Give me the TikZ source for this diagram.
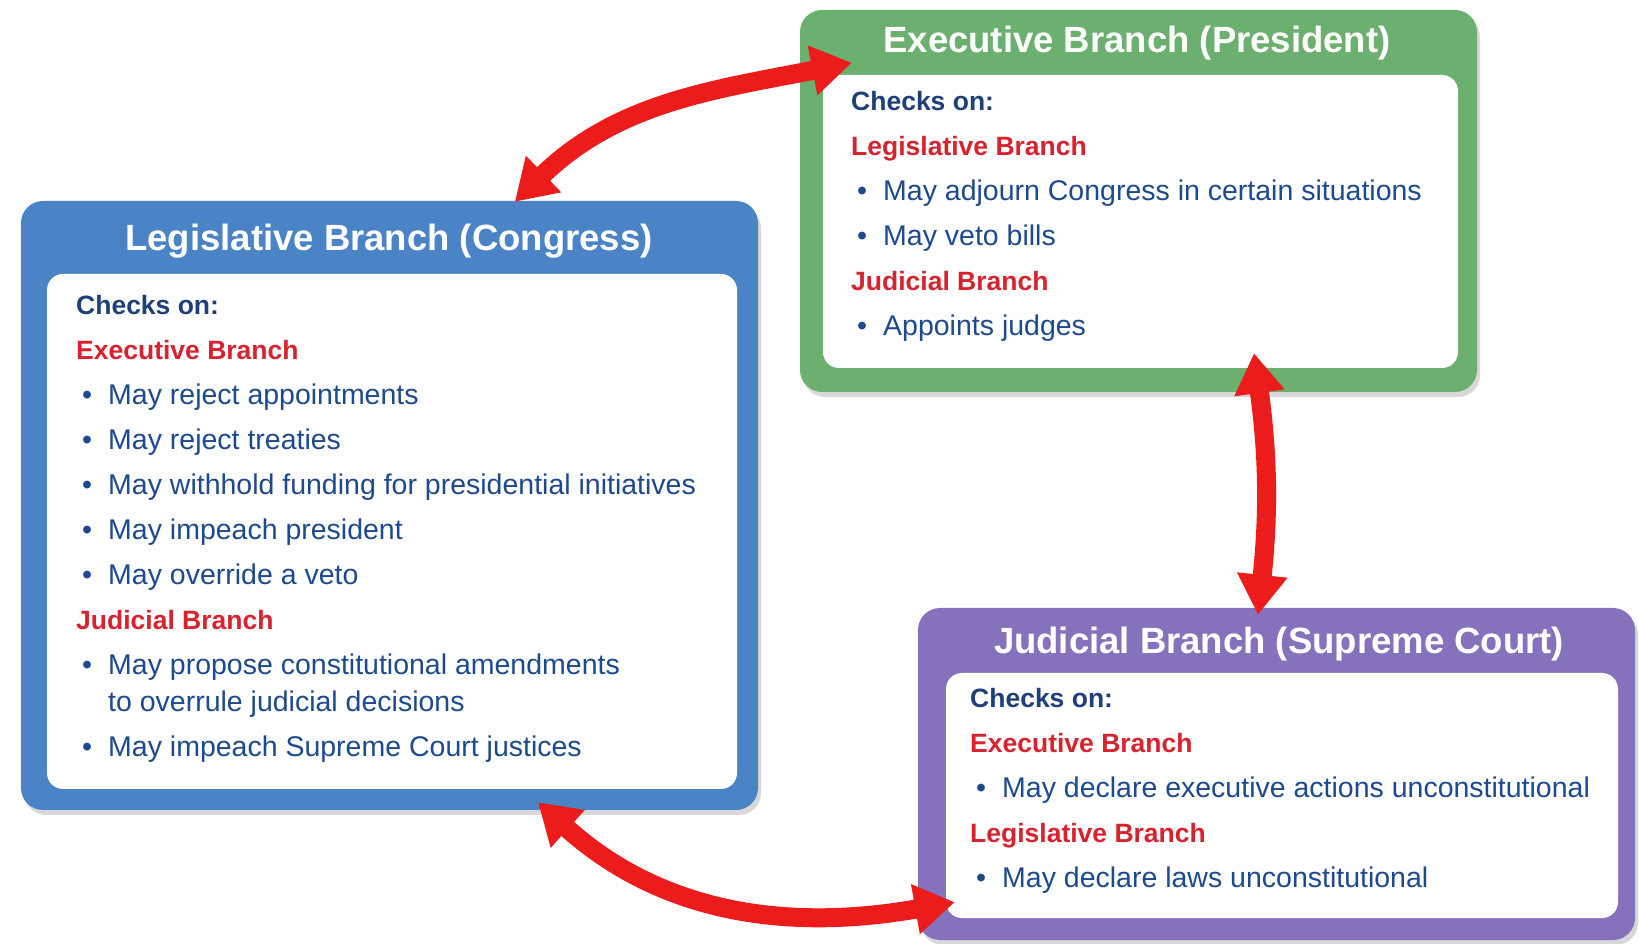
\documentclass[tikz,border=0pt]{standalone}
\usepackage{fontspec}
\setmainfont{Liberation Sans}
\usetikzlibrary{arrows.meta,shadows}

% box and text colours
\definecolor{execgreen}{HTML}{6BB06E}
\definecolor{legisblue}{HTML}{4A84C6}
\definecolor{judicpurple}{HTML}{8672BC}
\definecolor{arrowred}{HTML}{EC1C1C}
\definecolor{textblue}{HTML}{1D4A8E}
\definecolor{checkblue}{HTML}{1F3F7A}
\definecolor{headred}{HTML}{D8232E}

\newcommand{\checkson}{{\bfseries\fontsize{26.5}{45}\selectfont\color{checkblue}Checks on:}}
\newcommand{\branchhead}[1]{{\bfseries\fontsize{26.5}{45}\selectfont\color{headred}#1}}
\newcommand{\itm}{\hspace*{6pt}\makebox[26pt][l]{\textbullet}}

\tikzset{
  branch/.style={rounded corners=22pt, drop shadow={shadow xshift=3pt, shadow yshift=-5pt, opacity=0.3}},
  panel/.style={rounded corners=16pt, fill=white},
  branchtitle/.style={anchor=base, text=white, font=\bfseries\fontsize{36.5}{44}\selectfont},
  % the base of a list is the baseline of its last line
  checklist/.style={anchor=base west, align=left, inner sep=0pt, text=textblue, font=\fontsize{28.5}{45}\selectfont},
  checkarrow/.style={draw=arrowred, line width=19pt, {Triangle[length=40pt,width=48pt]}-{Triangle[length=40pt,width=48pt]}}
}

\begin{document}
\begin{tikzpicture}[x=1pt, y=1pt]
\fill[white] (0,0) rectangle (1639,943);
\useasboundingbox (0,0) rectangle (1639,943);

% executive
\node[branch, fill=execgreen, minimum width=677pt, minimum height=382pt] (exec) at (1138.5,742) {};
\node[panel, minimum width=635pt, minimum height=293pt] (execpanel) at (1140.5,721.5) {};
\node[branchtitle] (exectitle) at (1137,890) {Executive Branch (President)};
\node[checklist] (exectext) at (851,607) {\checkson\\
\branchhead{Legislative Branch}\\
\itm May adjourn Congress in certain situations\\
\itm May veto bills\\
\branchhead{Judicial Branch}\\
\itm Appoints judges};

% legislative
\node[branch, fill=legisblue, minimum width=737pt, minimum height=609pt] (legis) at (389.5,437.5) {};
\node[panel, minimum width=690pt, minimum height=515pt] (legispanel) at (392,411.5) {};
\node[branchtitle] (legistitle) at (389,692) {Legislative Branch (Congress)};
\node[checklist] (legistext) at (76,186.5) {\checkson\\
\branchhead{Executive Branch}\\
\itm May reject appointments\\
\itm May reject treaties\\
\itm May withhold funding for presidential initiatives\\
\itm May impeach president\\
\itm May override a veto\\
\branchhead{Judicial Branch}\\
\itm May propose constitutional amendments\\[-8.5pt]
\hspace*{32pt}to overrule judicial decisions\\
\itm May impeach Supreme Court justices};

% judicial
\node[branch, fill=judicpurple, minimum width=717pt, minimum height=332pt] (judic) at (1276.5,169) {};
\node[panel, minimum width=672pt, minimum height=245pt] (judicpanel) at (1282,147.5) {};
\node[branchtitle] (judictitle) at (1279,289) {Judicial Branch (Supreme Court)};
\node[checklist] (judictext) at (970,56) {\checkson\\
\branchhead{Executive Branch}\\
\itm May declare executive actions unconstitutional\\
\branchhead{Legislative Branch}\\
\itm May declare laws unconstitutional};

% arrow ends
\coordinate (execL) at ([xshift=52pt, yshift=-53pt]exec.north west);
\coordinate (execB) at ([xshift=115.5pt, yshift=39pt]exec.south);
\coordinate (legisT) at ([xshift=494pt, yshift=-1pt]legis.north west);
\coordinate (legisB) at ([xshift=148.5pt, yshift=8pt]legis.south);
\coordinate (judicT) at ([xshift=-18.5pt, yshift=-7pt]judic.north);
\coordinate (judicL) at ([xshift=37pt, yshift=38pt]judic.south west);

\draw[checkarrow] (execL) to[out=191, in=44] (legisT);
\draw[checkarrow] (execB) to[bend left=7] (judicT);
\draw[checkarrow] (legisB) to[out=-42, in=190] (judicL);
\end{tikzpicture}
\end{document}
